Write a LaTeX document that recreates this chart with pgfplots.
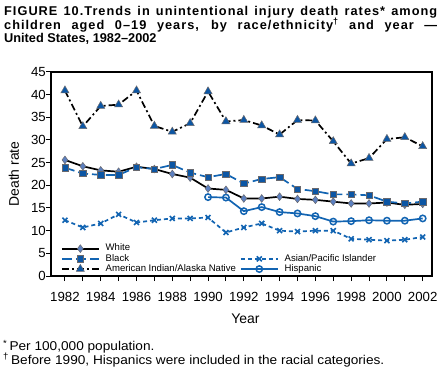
\documentclass[border=0pt]{standalone}
\usepackage{pgfplots}
\pgfplotsset{compat=1.18}
\usepackage{fontspec}
\setmainfont{Liberation Sans}
\newfontfamily\widesans[FakeStretch=1.07]{Liberation Sans}
\newfontfamily\titlesans[LetterSpace=8]{Liberation Sans}
\definecolor{cblue}{RGB}{18,100,178}
\definecolor{sqfill}{RGB}{12,86,164}
\definecolor{dmfill}{RGB}{92,128,192}
\definecolor{mkedge}{RGB}{105,105,110}

\pgfplotstableread{
year white black aian asian
1982 25.6 23.9 40.9 12.3
1983 24.2 22.6 33.0 10.7
1984 23.3 22.3 37.5 11.6
1985 23.0 22.3 37.8 13.6
1986 24.1 24.0 40.9 11.8
1987 23.6 23.6 33.1 12.3
1988 22.5 24.5 31.8 12.7
1989 21.7 22.8 33.7 12.7
1990 19.3 21.8 40.7 12.9
1991 19.0 22.5 34.1 9.6
1992 17.1 20.4 34.4 10.7
1993 17.1 21.4 33.2 11.6
1994 17.5 21.8 31.2 10.0
1995 17.0 19.2 34.4 9.8
1996 16.8 18.7 34.3 10.0
1997 16.4 18.0 29.7 10.0
1998 16.0 18.0 24.8 8.2
1999 16.0 17.8 26.0 8.0
2000 16.2 16.4 30.2 7.8
2001 15.7 16.0 30.6 8.0
2002 15.9 16.4 28.6 8.6
}\maintable

\pgfplotstableread{
year hisp
1990 17.4
1991 17.3
1992 14.3
1993 15.2
1994 14.1
1995 13.8
1996 13.2
1997 12.0
1998 12.1
1999 12.3
2000 12.2
2001 12.2
2002 12.7
}\hisptable

\begin{document}
\begin{tikzpicture}
\path[use as bounding box] (-51bp,-98bp) rectangle (394bp,276bp);
\begin{axis}[
  at={(0,0)}, anchor=south west,
  scale only axis, width=381bp, height=204bp,
  xmin=1981.22, xmax=2002.52, ymin=0, ymax=45,
  xtick={1982,1984,...,2002}, minor xtick={1983,1985,...,2001},
  ytick={0,5,...,45},
  tick pos=left, tick align=outside,
  major tick length=5bp, minor tick length=5bp,
  every tick/.style={black, line width=1bp},
  axis line style={line width=1.2bp},
  /pgf/number format/assume math mode=true,
  /pgf/number format/1000 sep={},
  ticklabel style={font=\fontsize{13.3}{13.3}\selectfont},
  xticklabel style={anchor=north, inner sep=0pt, yshift=-11bp},
  yticklabel style={anchor=east, inner sep=0pt},
  xlabel={Year}, ylabel={Death rate},
  xlabel style={font=\fontsize{14}{14}\selectfont, at={(axis description cs:0.5,0)}, anchor=base, yshift=-47bp, xshift=4bp},
  ylabel style={font=\fontsize{14}{14}\selectfont, at={(axis description cs:-0.0971,0.5)}, anchor=center},
  legend columns=2,
  legend cell align=left,
  legend style={at={(axis cs:1981.6,0)}, anchor=south west, draw=none, fill=none,
    font=\fontsize{9.6}{9.6}\selectfont,
    nodes={inner sep=0pt, text height=7bp, text depth=2.5bp},
    row sep=0.7bp,
    /tikz/every odd column/.append style={column sep=6bp},
    /tikz/every even column/.append style={column sep=4bp}},
  legend image code/.code={\draw[mark repeat=2,mark phase=2] plot coordinates {(0bp,0bp) (18.5bp,0bp) (37bp,0bp)};},
]
\addplot[forget plot, black, line width=1.7bp, dash pattern=on 7bp off 3bp on 2bp off 3bp,
  mark=triangle*, mark size=4.7bp, mark options={solid, fill=sqfill, draw=mkedge, line width=0.5bp}]
  table[x=year, y=aian] {\maintable};
\addplot[forget plot, cblue, line width=1.7bp, dash pattern=on 4bp off 3bp,
  mark=x, mark size=3.5bp, mark options={solid, line width=1.6bp}]
  table[x=year, y=asian] {\maintable};
\addplot[forget plot, cblue, line width=1.7bp,
  mark=o, mark size=3.2bp, mark options={solid, fill=white, line width=1.5bp}]
  table[x=year, y=hisp] {\hisptable};
\addplot[forget plot, black, line width=1.7bp,
  mark=diamond*, mark size=3.9bp, mark options={solid, fill=dmfill, draw=mkedge, line width=0.5bp}]
  table[x=year, y=white] {\maintable};
\addplot[forget plot, cblue, line width=1.7bp, dash pattern=on 10bp off 4bp,
  mark=square*, mark size=3.2bp, mark options={solid, fill=sqfill, draw=mkedge, line width=0.5bp}]
  table[x=year, y=black] {\maintable};

\addlegendimage{black, line width=1.7bp, mark=diamond*, mark size=3.9bp, mark options={solid, fill=dmfill, draw=mkedge, line width=0.5bp}}
\addlegendentry{White}
\addlegendimage{empty legend}
\addlegendentry{}
\addlegendimage{cblue, line width=1.7bp, dash pattern=on 10bp off 4bp, mark=square*, mark size=3.2bp, mark options={solid, fill=sqfill, draw=mkedge, line width=0.5bp}}
\addlegendentry{Black}
\addlegendimage{cblue, line width=1.7bp, dash pattern=on 4bp off 3bp, mark=x, mark size=3.5bp, mark options={solid, line width=1.6bp}}
\addlegendentry{Asian/Pacific Islander}
\addlegendimage{black, line width=1.7bp, dash pattern=on 7bp off 3bp on 2bp off 3bp, mark=triangle*, mark size=4.7bp, mark options={solid, fill=sqfill, draw=mkedge, line width=0.5bp}}
\addlegendentry{American Indian/Alaska Native}
\addlegendimage{cblue, line width=1.7bp, mark=o, mark size=3.2bp, mark options={solid, fill=white, line width=1.5bp}}
\addlegendentry{Hispanic}
\end{axis}
\node[anchor=north west, align=left, inner sep=0pt, font=\fontsize{12.8}{13.7}\selectfont\bfseries] at (-47bp,270bp)
 {\makebox[433bp][s]{\titlesans\bfseries FIGURE 10.Trends in unintentional injury death rates* among}\\
  \makebox[433bp][s]{\titlesans\bfseries children aged 0–19 years, by race/ethnicity\textsuperscript{†} and year —}\\
  United States, 1982–2002};
\node[anchor=base west, inner sep=0pt, font=\widesans\fontsize{12.8}{12.8}\selectfont] at (-48bp,-74.7bp)
 {\textsuperscript{*}\,Per 100,000 population.};
\node[anchor=base west, inner sep=0pt, font=\widesans\fontsize{12.8}{12.8}\selectfont] at (-48bp,-88.3bp)
 {\textsuperscript{†}\,Before 1990, Hispanics were included in the racial categories.};
\end{tikzpicture}
\end{document}
